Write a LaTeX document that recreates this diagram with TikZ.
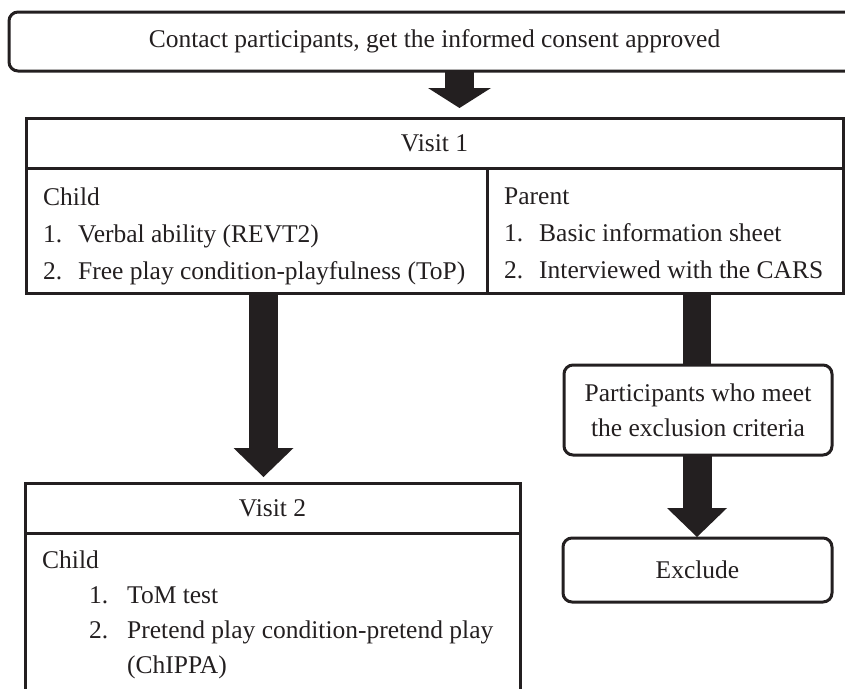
\documentclass[tikz,border=0pt]{standalone}
\usepackage{fontspec}
\setmainfont{Liberation Serif}
\usetikzlibrary{arrows.meta,calc}
\definecolor{ink}{HTML}{231F20}

\tikzset{
  txt/.style={font=\fontsize{25.5}{37}\selectfont, text=ink},
  cellbox/.style={draw=ink, line width=3pt, outer sep=0pt, inner sep=0pt},
  roundbox/.style={cellbox, rounded corners=9pt, align=center},
  listtext/.style={align=left, inner sep=0pt, anchor=north west},
  bigarrow/.style={ink, line width=29pt},
  bighead/.style={-{Triangle[width=#1,length=29pt,line width=0pt]}}
}

\begin{document}
\begin{tikzpicture}[x=1pt,y=-1pt,every node/.style={txt}]
  \useasboundingbox (0,0) rectangle (845,688);
  \coordinate (xa) at (459.5,0);
  \coordinate (xb) at (263.5,0);
  \coordinate (xc) at (697,0);

  \node[roundbox, minimum width=851pt, minimum height=59pt] (contact) at (434.5,41.5) {Contact participants, get the informed consent approved};

  % visit 1
  \node[cellbox, minimum width=817pt, minimum height=50pt] (visit1) at (434.5,143) {Visit 1};
  \node[cellbox, minimum width=461pt, minimum height=125pt, anchor=north west] (v1child) at (visit1.south west) {};
  \node[cellbox, minimum width=356pt, minimum height=125pt, anchor=north east] (v1parent) at (visit1.south east) {};
  \node[listtext] (childtasks) at (43,187.6) {Child\\\makebox[35pt][l]{1.}Verbal ability (REVT2)\\\makebox[35pt][l]{2.}Free play condition-playfulness (ToP)};
  \node[listtext] (parenttasks) at (504,187.6) {Parent\\\makebox[35pt][l]{1.}Basic information sheet\\\makebox[35pt][l]{2.}Interviewed with the CARS};

  % visit 2
  \node[cellbox, minimum width=495pt, minimum height=50pt] (visit2) at (272.5,508) {Visit 2};
  \node[cellbox, minimum width=495pt, minimum height=180pt, anchor=north west] (v2child) at (visit2.south west) {};
  \node[listtext, font=\fontsize{25.5}{35}\selectfont] (childtasks2) at (42,550.6) {Child\\\hspace*{47pt}\makebox[38pt][l]{1.}ToM test\\\hspace*{47pt}\makebox[38pt][l]{2.}Pretend play condition-pretend play\\\hspace*{85pt}(ChIPPA)};

  % exclusion branch
  \node[roundbox, minimum width=268pt, minimum height=90pt, font=\fontsize{25.5}{35}\selectfont] (criteria) at (698,410) {Participants who meet\\the exclusion criteria};
  \node[roundbox, minimum width=269pt, minimum height=64pt] (exclude) at (697.5,570) {Exclude};

  \draw[bigarrow, -{Triangle[width=63pt,length=20pt,line width=0pt]}] (xa |- contact.south) -- ($(xa |- visit1.north)+(0,-10)$);
  \draw[bigarrow, bighead=60pt] (xb |- v1child.south) -- ($(xb |- visit2.north)+(0,-6)$);
  \draw[bigarrow, line width=28pt] (xc |- v1parent.south) -- (xc |- criteria.north);
  \draw[bigarrow, bighead=60pt] (xc |- criteria.south) -- ($(xc |- exclude.north)+(0,-1)$);
\end{tikzpicture}
\end{document}
